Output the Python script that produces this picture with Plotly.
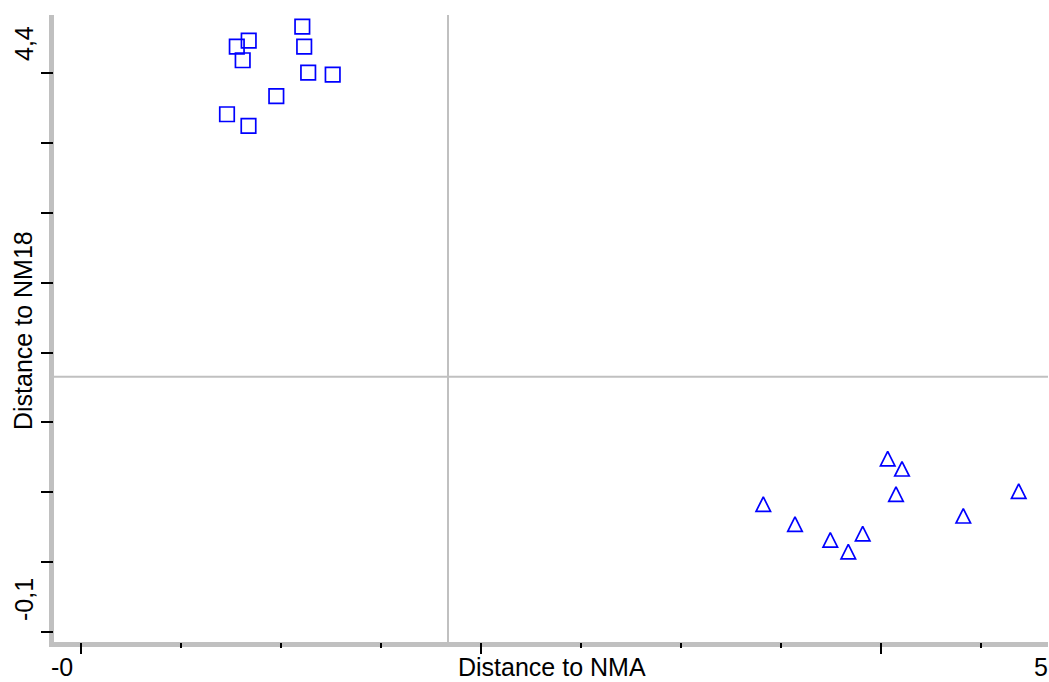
import plotly.graph_objects as go

# ---- data ----
sq_x = [1.1065, 1.116, 0.8385, 0.779, 0.8085, 1.136, 1.2585, 0.9765, 0.730, 0.8375]
sq_y = [4.330, 4.187, 4.229, 4.186, 4.089, 4.001, 3.986, 3.832, 3.703, 3.620]

tri_x = [3.4115, 3.570, 3.7465, 3.8365, 3.9085, 4.0335, 4.105, 4.075, 4.4115, 4.6885]
tri_y = [0.916, 0.773, 0.661, 0.576, 0.706, 1.241, 1.169, 0.987, 0.833, 1.009]

ref_x = 1.835   # vertical reference line
ref_y = 1.827   # horizontal reference line

x_range = [-0.135, 4.835]
y_range = [-0.0693, 4.4124]

x_end_labels = ["-0", "5"]
y_end_labels = ["-0,1", "4,4"]
x_title = "Distance to NMA"
y_title = "Distance to NM18"

BLUE = "#0000ff"
GRAY = "#c0c0c0"
FONT = "Liberation Sans, Arial, sans-serif"
FS = 25

fig = go.Figure()
fig.add_trace(go.Scatter(
    x=sq_x, y=sq_y, mode="markers",
    marker=dict(symbol="square-open", size=14.5, color=BLUE, line=dict(width=1.7)),
    showlegend=False, hoverinfo="x+y"))
fig.add_trace(go.Scatter(
    x=tri_x, y=tri_y, mode="markers",
    marker=dict(symbol="arrow-down-open", angle=180, standoff=7.25, size=14.5,
                color=BLUE, line=dict(width=1.7)),
    showlegend=False, hoverinfo="x+y"))

W, H = 1049, 682
L, R, T, B = 54, 1, 15, 40
pw, ph = W - L - R, H - T - B

shapes = [
    # axis bars (gray, thick) drawn outside the plot area
    dict(type="rect", xref="paper", yref="paper", x0=-5 / pw, x1=0, y0=-5 / ph, y1=1,
         fillcolor=GRAY, line=dict(width=0), layer="below"),
    dict(type="rect", xref="paper", yref="paper", x0=-5 / pw, x1=1, y0=-5 / ph, y1=0,
         fillcolor=GRAY, line=dict(width=0), layer="below"),
    # reference lines
    dict(type="line", xref="x", yref="paper", x0=ref_x, x1=ref_x, y0=0, y1=1,
         line=dict(color=GRAY, width=2), layer="below"),
    dict(type="line", xref="paper", yref="y", x0=0, x1=1, y0=ref_y, y1=ref_y,
         line=dict(color=GRAY, width=2), layer="below"),
]

def px_x(p):
    return (p - L) / pw

def px_y(p):
    return (H - B - p) / ph

font = dict(family=FONT, size=FS, color="black")
bottom_y = px_y(681.5)
annotations = [
    dict(text=x_title, x=px_x(552), y=bottom_y, xref="paper", yref="paper",
         showarrow=False, xanchor="center", yanchor="bottom", borderpad=0, font=font),
    dict(text=x_end_labels[0], x=px_x(62), y=bottom_y, xref="paper", yref="paper",
         showarrow=False, xanchor="center", yanchor="bottom", borderpad=0, font=font),
    dict(text=x_end_labels[1], x=px_x(1041), y=bottom_y, xref="paper", yref="paper",
         showarrow=False, xanchor="center", yanchor="bottom", borderpad=0, font=font),
    dict(text=y_title, x=px_x(23), y=px_y(331), xref="paper", yref="paper", textangle=-90,
         showarrow=False, xanchor="center", yanchor="middle", borderpad=0, font=font),
    dict(text=y_end_labels[1], x=px_x(24), y=px_y(44), xref="paper", yref="paper", textangle=-90,
         showarrow=False, xanchor="center", yanchor="middle", borderpad=0, font=font),
    dict(text=y_end_labels[0], x=px_x(24), y=px_y(600), xref="paper", yref="paper", textangle=-90,
         showarrow=False, xanchor="center", yanchor="middle", borderpad=0, font=font),
]

fig.update_layout(
    width=W, height=H,
    margin=dict(l=L, r=R, t=T, b=B, autoexpand=False),
    paper_bgcolor="white", plot_bgcolor="rgba(0,0,0,0)",
    shapes=shapes, annotations=annotations,
    xaxis=dict(range=x_range, showgrid=False, zeroline=False, showline=False,
               showticklabels=False, ticks="outside", tick0=0, dtick=2,
               ticklen=11, tickwidth=1.6, tickcolor="black",
               minor=dict(ticks="outside", dtick=0.5, tick0=0, ticklen=5,
                          tickwidth=1.6, tickcolor="black", showgrid=False),
               fixedrange=True),
    yaxis=dict(range=y_range, showgrid=False, zeroline=False, showline=False,
               showticklabels=False, ticks="outside", tick0=0, dtick=0.5,
               ticklen=12, tickwidth=1.6, tickcolor="black", fixedrange=True),
)

fig.write_html("out.html")
